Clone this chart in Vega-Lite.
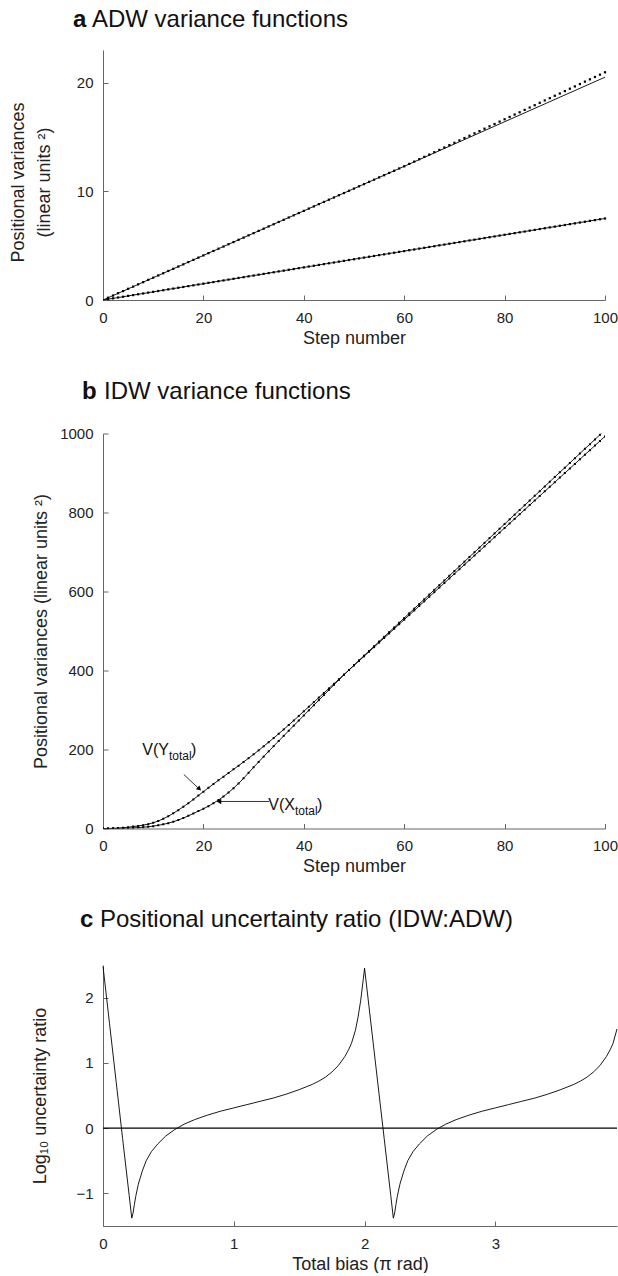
{
  "$schema": "https://vega.github.io/schema/vega-lite/v6.json",
  "background": "white",
  "padding": {"left": 8, "top": 8, "right": 0, "bottom": 0},
  "spacing": 32.5,
  "config": {
    "font": "Liberation Sans",
    "view": {"stroke": null},
    "axis": {
      "grid": false,
      "domainColor": "#666",
      "tickColor": "#666",
      "domainWidth": 1,
      "tickWidth": 1,
      "tickSize": -5,
      "labelPadding": 15,
      "labelFontSize": 15,
      "labelColor": "#222",
      "labelFlush": false,
      "format": "d",
      "titleFontSize": 18,
      "titleFontWeight": "normal",
      "titleColor": "#222"
    }
  },
  "datasets": {
    "adwDots": [
      {"step":1,"upper":0.21,"lower":0.08},{"step":2,"upper":0.41,"lower":0.15},{"step":3,"upper":0.62,"lower":0.23},{"step":4,"upper":0.82,"lower":0.3},{"step":5,"upper":1.03,"lower":0.38},
      {"step":6,"upper":1.23,"lower":0.45},{"step":7,"upper":1.44,"lower":0.53},{"step":8,"upper":1.64,"lower":0.6},{"step":9,"upper":1.85,"lower":0.68},{"step":10,"upper":2.05,"lower":0.75},
      {"step":11,"upper":2.26,"lower":0.83},{"step":12,"upper":2.46,"lower":0.9},{"step":13,"upper":2.67,"lower":0.98},{"step":14,"upper":2.87,"lower":1.05},{"step":15,"upper":3.08,"lower":1.13},
      {"step":16,"upper":3.28,"lower":1.2},{"step":17,"upper":3.49,"lower":1.28},{"step":18,"upper":3.69,"lower":1.35},{"step":19,"upper":3.9,"lower":1.43},{"step":20,"upper":4.1,"lower":1.5},
      {"step":21,"upper":4.31,"lower":1.58},{"step":22,"upper":4.51,"lower":1.65},{"step":23,"upper":4.72,"lower":1.73},{"step":24,"upper":4.92,"lower":1.8},{"step":25,"upper":5.13,"lower":1.88},
      {"step":26,"upper":5.33,"lower":1.95},{"step":27,"upper":5.54,"lower":2.03},{"step":28,"upper":5.74,"lower":2.1},{"step":29,"upper":5.95,"lower":2.18},{"step":30,"upper":6.15,"lower":2.25},
      {"step":31,"upper":6.36,"lower":2.33},{"step":32,"upper":6.56,"lower":2.4},{"step":33,"upper":6.77,"lower":2.48},{"step":34,"upper":6.97,"lower":2.55},{"step":35,"upper":7.18,"lower":2.63},
      {"step":36,"upper":7.38,"lower":2.7},{"step":37,"upper":7.59,"lower":2.78},{"step":38,"upper":7.79,"lower":2.85},{"step":39,"upper":8.0,"lower":2.93},{"step":40,"upper":8.2,"lower":3.0},
      {"step":41,"upper":8.41,"lower":3.08},{"step":42,"upper":8.61,"lower":3.15},{"step":43,"upper":8.82,"lower":3.23},{"step":44,"upper":9.02,"lower":3.3},{"step":45,"upper":9.23,"lower":3.38},
      {"step":46,"upper":9.43,"lower":3.45},{"step":47,"upper":9.64,"lower":3.53},{"step":48,"upper":9.84,"lower":3.6},{"step":49,"upper":10.05,"lower":3.68},{"step":50,"upper":10.25,"lower":3.75},
      {"step":51,"upper":10.46,"lower":3.83},{"step":52,"upper":10.66,"lower":3.9},{"step":53,"upper":10.87,"lower":3.98},{"step":54,"upper":11.07,"lower":4.05},{"step":55,"upper":11.28,"lower":4.13},
      {"step":56,"upper":11.48,"lower":4.2},{"step":57,"upper":11.69,"lower":4.28},{"step":58,"upper":11.89,"lower":4.35},{"step":59,"upper":12.1,"lower":4.43},{"step":60,"upper":12.3,"lower":4.5},
      {"step":61,"upper":12.52,"lower":4.58},{"step":62,"upper":12.73,"lower":4.65},{"step":63,"upper":12.95,"lower":4.73},{"step":64,"upper":13.17,"lower":4.8},{"step":65,"upper":13.38,"lower":4.88},
      {"step":66,"upper":13.6,"lower":4.95},{"step":67,"upper":13.81,"lower":5.03},{"step":68,"upper":14.03,"lower":5.1},{"step":69,"upper":14.25,"lower":5.18},{"step":70,"upper":14.46,"lower":5.25},
      {"step":71,"upper":14.68,"lower":5.33},{"step":72,"upper":14.9,"lower":5.4},{"step":73,"upper":15.11,"lower":5.48},{"step":74,"upper":15.33,"lower":5.55},{"step":75,"upper":15.54,"lower":5.63},
      {"step":76,"upper":15.76,"lower":5.7},{"step":77,"upper":15.98,"lower":5.78},{"step":78,"upper":16.19,"lower":5.85},{"step":79,"upper":16.41,"lower":5.93},{"step":80,"upper":16.63,"lower":6.0},
      {"step":81,"upper":16.84,"lower":6.08},{"step":82,"upper":17.06,"lower":6.15},{"step":83,"upper":17.27,"lower":6.23},{"step":84,"upper":17.49,"lower":6.3},{"step":85,"upper":17.71,"lower":6.38},
      {"step":86,"upper":17.92,"lower":6.45},{"step":87,"upper":18.14,"lower":6.53},{"step":88,"upper":18.36,"lower":6.6},{"step":89,"upper":18.57,"lower":6.68},{"step":90,"upper":18.79,"lower":6.75},
      {"step":91,"upper":19.0,"lower":6.83},{"step":92,"upper":19.22,"lower":6.9},{"step":93,"upper":19.44,"lower":6.98},{"step":94,"upper":19.65,"lower":7.05},{"step":95,"upper":19.87,"lower":7.13},
      {"step":96,"upper":20.09,"lower":7.2},{"step":97,"upper":20.3,"lower":7.28},{"step":98,"upper":20.52,"lower":7.35},{"step":99,"upper":20.73,"lower":7.43},{"step":100,"upper":20.95,"lower":7.5}
    ],
    "adwLines": [
      {"step":0,"upper":0,"lower":0},
      {"step":100,"upper":20.5,"lower":7.5}
    ],
    "idw": [
      {"step":0,"vy":0,"vx":0},{"step":1,"vy":0.1,"vx":0.02},{"step":2,"vy":0.4,"vx":0.1},{"step":3,"vy":1,"vx":0.25},{"step":4,"vy":2,"vx":0.5},
      {"step":5,"vy":3.2,"vx":0.9},{"step":6,"vy":4.8,"vx":1.5},{"step":7,"vy":6.5,"vx":2.3},{"step":8,"vy":8.5,"vx":3.3},{"step":9,"vy":11,"vx":4.5},
      {"step":10,"vy":14.5,"vx":6},{"step":11,"vy":19,"vx":8},{"step":12,"vy":24.5,"vx":10.5},{"step":13,"vy":31,"vx":13.5},{"step":14,"vy":38.5,"vx":17},
      {"step":15,"vy":46.5,"vx":21.5},{"step":16,"vy":55,"vx":26.5},{"step":17,"vy":64,"vx":32},{"step":18,"vy":73.5,"vx":38},{"step":19,"vy":83.3,"vx":44},
      {"step":20,"vy":93.2,"vx":50},{"step":21,"vy":103,"vx":56.5},{"step":22,"vy":112.6,"vx":64},{"step":23,"vy":122,"vx":72},{"step":24,"vy":131.3,"vx":81},
      {"step":25,"vy":140.5,"vx":91},{"step":26,"vy":149.7,"vx":102},{"step":27,"vy":159,"vx":114},{"step":28,"vy":168.4,"vx":127},{"step":29,"vy":178,"vx":141},
      {"step":30,"vy":187.8,"vx":155},{"step":31,"vy":197.8,"vx":168.5},{"step":32,"vy":208,"vx":182},{"step":33,"vy":218.4,"vx":195.3},{"step":34,"vy":229,"vx":208.5},
      {"step":35,"vy":239.8,"vx":221.6},{"step":36,"vy":250.8,"vx":234.6},{"step":37,"vy":262,"vx":247.5},{"step":38,"vy":273.4,"vx":260.4},{"step":39,"vy":285,"vx":273.3},
      {"step":40,"vy":296.7,"vx":286.2},{"step":41,"vy":308.3,"vx":299.1},{"step":42,"vy":319.9,"vx":312},{"step":43,"vy":331.5,"vx":324.9},{"step":44,"vy":343.1,"vx":337.8},
      {"step":45,"vy":354.7,"vx":350.7},{"step":46,"vy":366.3,"vx":363.6},{"step":47,"vy":377.9,"vx":376.4},{"step":48,"vy":389.5,"vx":389.1},{"step":49,"vy":401.1,"vx":401.5},
      {"step":50,"vy":412.7,"vx":413.7},{"step":51,"vy":424.3,"vx":425.7},{"step":52,"vy":435.9,"vx":437.6},{"step":53,"vy":447.5,"vx":449.5},{"step":54,"vy":459.1,"vx":461.4},
      {"step":55,"vy":470.7,"vx":473.3},{"step":56,"vy":482.3,"vx":485.2},{"step":57,"vy":493.9,"vx":497.1},{"step":58,"vy":505.5,"vx":509.0},{"step":59,"vy":517.1,"vx":520.9},
      {"step":60,"vy":528.7,"vx":532.8},{"step":61,"vy":540.3,"vx":544.7},{"step":62,"vy":551.9,"vx":556.6},{"step":63,"vy":563.5,"vx":568.5},{"step":64,"vy":575.1,"vx":580.4},
      {"step":65,"vy":586.7,"vx":592.3},{"step":66,"vy":598.3,"vx":604.2},{"step":67,"vy":609.9,"vx":616.1},{"step":68,"vy":621.5,"vx":628.0},{"step":69,"vy":633.1,"vx":639.9},
      {"step":70,"vy":644.7,"vx":651.8},{"step":71,"vy":656.3,"vx":663.7},{"step":72,"vy":667.9,"vx":675.6},{"step":73,"vy":679.5,"vx":687.5},{"step":74,"vy":691.1,"vx":699.4},
      {"step":75,"vy":702.7,"vx":711.3},{"step":76,"vy":714.3,"vx":723.2},{"step":77,"vy":725.9,"vx":735.1},{"step":78,"vy":737.5,"vx":747.0},{"step":79,"vy":749.1,"vx":758.9},
      {"step":80,"vy":760.7,"vx":770.8},{"step":81,"vy":772.3,"vx":782.7},{"step":82,"vy":783.9,"vx":794.6},{"step":83,"vy":795.5,"vx":806.5},{"step":84,"vy":807.1,"vx":818.4},
      {"step":85,"vy":818.7,"vx":830.3},{"step":86,"vy":830.3,"vx":842.2},{"step":87,"vy":841.9,"vx":854.1},{"step":88,"vy":853.5,"vx":866.0},{"step":89,"vy":865.1,"vx":877.9},
      {"step":90,"vy":876.7,"vx":889.8},{"step":91,"vy":888.3,"vx":901.7},{"step":92,"vy":899.9,"vx":913.6},{"step":93,"vy":911.5,"vx":925.5},{"step":94,"vy":923.1,"vx":937.4},
      {"step":95,"vy":934.7,"vx":949.3},{"step":96,"vy":946.3,"vx":961.2},{"step":97,"vy":957.9,"vx":973.1},{"step":98,"vy":969.5,"vx":985.0},{"step":99,"vy":981.1,"vx":996.9},
      {"step":100,"vy":992.7,"vx":1008.8}
    ],
    "ratio": [
      {"bias":0,"logratio":2.48},{"bias":0.05,"logratio":1.6},{"bias":0.1,"logratio":0.72},{"bias":0.15,"logratio":-0.16},{"bias":0.2,"logratio":-1.03},
      {"bias":0.22,"logratio":-1.38},{"bias":0.23,"logratio":-1.3},{"bias":0.24,"logratio":-1.17},{"bias":0.25,"logratio":-1.05},{"bias":0.27,"logratio":-0.86},{"bias":0.3,"logratio":-0.66},
      {"bias":0.33,"logratio":-0.5},{"bias":0.37,"logratio":-0.36},{"bias":0.42,"logratio":-0.24},{"bias":0.48,"logratio":-0.12},{"bias":0.55,"logratio":-0.02},
      {"bias":0.62,"logratio":0.06},{"bias":0.7,"logratio":0.13},{"bias":0.8,"logratio":0.2},{"bias":0.9,"logratio":0.26},{"bias":1.0,"logratio":0.31},
      {"bias":1.1,"logratio":0.36},{"bias":1.2,"logratio":0.41},{"bias":1.3,"logratio":0.46},{"bias":1.4,"logratio":0.52},{"bias":1.5,"logratio":0.59},
      {"bias":1.6,"logratio":0.67},{"bias":1.65,"logratio":0.72},{"bias":1.7,"logratio":0.78},{"bias":1.75,"logratio":0.86},{"bias":1.8,"logratio":0.96},{"bias":1.85,"logratio":1.1},
      {"bias":1.88,"logratio":1.21},{"bias":1.9,"logratio":1.3},{"bias":1.93,"logratio":1.5},{"bias":1.95,"logratio":1.7},{"bias":1.97,"logratio":1.95},{"bias":1.99,"logratio":2.28},{"bias":2.0,"logratio":2.45},
      {"bias":2.05,"logratio":1.58},{"bias":2.1,"logratio":0.71},{"bias":2.15,"logratio":-0.16},{"bias":2.2,"logratio":-1.03},{"bias":2.22,"logratio":-1.38},
      {"bias":2.23,"logratio":-1.3},{"bias":2.24,"logratio":-1.17},{"bias":2.25,"logratio":-1.05},{"bias":2.27,"logratio":-0.86},{"bias":2.3,"logratio":-0.66},{"bias":2.33,"logratio":-0.5},
      {"bias":2.37,"logratio":-0.36},{"bias":2.42,"logratio":-0.24},{"bias":2.48,"logratio":-0.12},{"bias":2.55,"logratio":-0.02},{"bias":2.62,"logratio":0.06},
      {"bias":2.7,"logratio":0.13},{"bias":2.8,"logratio":0.2},{"bias":2.9,"logratio":0.26},{"bias":3.0,"logratio":0.31},{"bias":3.1,"logratio":0.36},
      {"bias":3.2,"logratio":0.41},{"bias":3.3,"logratio":0.46},{"bias":3.4,"logratio":0.52},{"bias":3.5,"logratio":0.59},{"bias":3.6,"logratio":0.67},
      {"bias":3.65,"logratio":0.72},{"bias":3.7,"logratio":0.78},{"bias":3.75,"logratio":0.86},{"bias":3.8,"logratio":0.96},{"bias":3.85,"logratio":1.1},{"bias":3.88,"logratio":1.21},{"bias":3.9,"logratio":1.3},
      {"bias":3.93,"logratio":1.52}
    ]
  },
  "vconcat": [
    {
      "width": 502,
      "height": 250,
      "layer": [
        {
          "data": {"name": "adwLines"},
          "transform": [{"fold": ["upper", "lower"], "as": ["series", "variance"]}],
          "mark": {"type": "line", "color": "#000", "strokeWidth": 0.9},
          "encoding": {
            "x": {"field": "step", "type": "quantitative", "scale": {"domain": [0, 100], "nice": false}, "axis": {"values": [0, 20, 40, 60, 80, 100], "title": "Step number"}},
            "y": {"field": "variance", "type": "quantitative", "scale": {"domain": [0, 23], "nice": false}, "axis": {"values": [0, 10, 20], "title": ["Positional variances", "(linear units ²)"], "titleX": -85, "titleY": 132, "titleBaseline": "middle", "titleLineHeight": 26}},
            "detail": {"field": "series"}
          }
        },
        {
          "data": {"name": "adwDots"},
          "transform": [{"fold": ["upper", "lower"], "as": ["series", "variance"]}],
          "mark": {"type": "point", "shape": "square", "filled": true, "size": 5, "color": "#000", "opacity": 1},
          "encoding": {
            "x": {"field": "step", "type": "quantitative", "scale": {"domain": [0, 100], "nice": false}, "axis": {"values": [0, 20, 40, 60, 80, 100], "title": "Step number"}},
            "y": {"field": "variance", "type": "quantitative", "scale": {"domain": [0, 23], "nice": false}, "axis": {"values": [0, 10, 20], "title": ["Positional variances", "(linear units ²)"], "titleX": -85, "titleY": 132, "titleBaseline": "middle", "titleLineHeight": 26}}
          }
        },
        {
          "data": {"values": [{"tag": "a", "name": "ADW variance functions"}]},
          "mark": {"type": "text", "align": "left", "baseline": "alphabetic", "fontSize": 24, "fontWeight": "bold", "color": "#111"},
          "encoding": {"x": {"datum": -6, "type": "quantitative"}, "y": {"datum": 25.1, "type": "quantitative"}, "text": {"field": "tag"}}
        },
        {
          "data": {"values": [{"tag": "a", "name": "ADW variance functions"}]},
          "mark": {"type": "text", "align": "left", "baseline": "alphabetic", "fontSize": 24, "dx": 19, "color": "#111"},
          "encoding": {"x": {"datum": -6, "type": "quantitative"}, "y": {"datum": 25.1, "type": "quantitative"}, "text": {"field": "name"}}
        }
      ]
    },
    {
      "width": 502,
      "height": 395,
      "layer": [
        {
          "data": {"name": "idw"},
          "transform": [{"fold": ["vy", "vx"], "as": ["series", "variance"]}],
          "mark": {"type": "line", "color": "#000", "strokeWidth": 0.9, "clip": true},
          "encoding": {
            "x": {"field": "step", "type": "quantitative", "scale": {"domain": [0, 100], "nice": false}, "axis": {"values": [0, 20, 40, 60, 80, 100], "title": "Step number"}},
            "y": {"field": "variance", "type": "quantitative", "scale": {"domain": [0, 1000], "nice": false}, "axis": {"values": [0, 200, 400, 600, 800, 1000], "title": "Positional variances (linear units  ²)", "titleX": -62, "titleBaseline": "middle"}},
            "detail": {"field": "series"}
          }
        },
        {
          "data": {"name": "idw"},
          "transform": [{"fold": ["vy", "vx"], "as": ["series", "variance"]}],
          "mark": {"type": "point", "shape": "square", "filled": true, "size": 4, "color": "#000", "opacity": 1, "clip": true},
          "encoding": {
            "x": {"field": "step", "type": "quantitative", "scale": {"domain": [0, 100], "nice": false}, "axis": {"values": [0, 20, 40, 60, 80, 100], "title": "Step number"}},
            "y": {"field": "variance", "type": "quantitative", "scale": {"domain": [0, 1000], "nice": false}, "axis": {"values": [0, 200, 400, 600, 800, 1000], "title": "Positional variances (linear units  ²)", "titleX": -62, "titleBaseline": "middle"}}
          }
        },
        {
          "data": {"values": [{"tag": "b", "name": "IDW variance functions"}]},
          "mark": {"type": "text", "align": "left", "baseline": "alphabetic", "fontSize": 24, "fontWeight": "bold", "color": "#111"},
          "encoding": {"x": {"datum": -4.18, "type": "quantitative"}, "y": {"datum": 1088, "type": "quantitative"}, "text": {"field": "tag"}}
        },
        {
          "data": {"values": [{"tag": "b", "name": "IDW variance functions"}]},
          "mark": {"type": "text", "align": "left", "baseline": "alphabetic", "fontSize": 24, "dx": 22, "color": "#111"},
          "encoding": {"x": {"datum": -4.18, "type": "quantitative"}, "y": {"datum": 1088, "type": "quantitative"}, "text": {"field": "name"}}
        },
        {
          "data": {"values": [{"main": "V(Y", "sub": "total", "close": ")"}]},
          "mark": {"type": "text", "align": "right", "baseline": "alphabetic", "fontSize": 16, "color": "#111"},
          "encoding": {"x": {"datum": 13.15, "type": "quantitative"}, "y": {"datum": 187, "type": "quantitative"}, "text": {"field": "main"}}
        },
        {
          "data": {"values": [{"main": "V(Y", "sub": "total", "close": ")"}]},
          "mark": {"type": "text", "align": "left", "baseline": "alphabetic", "fontSize": 12, "dy": 5, "color": "#111"},
          "encoding": {"x": {"datum": 13.15, "type": "quantitative"}, "y": {"datum": 187, "type": "quantitative"}, "text": {"field": "sub"}}
        },
        {
          "data": {"values": [{"main": "V(Y", "sub": "total", "close": ")"}]},
          "mark": {"type": "text", "align": "left", "baseline": "alphabetic", "fontSize": 16, "dx": 22, "color": "#111"},
          "encoding": {"x": {"datum": 13.15, "type": "quantitative"}, "y": {"datum": 187, "type": "quantitative"}, "text": {"field": "close"}}
        },
        {
          "data": {"values": [{"main": "V(X", "sub": "total", "close": ")"}]},
          "mark": {"type": "text", "align": "right", "baseline": "alphabetic", "fontSize": 16, "color": "#111"},
          "encoding": {"x": {"datum": 38.25, "type": "quantitative"}, "y": {"datum": 48, "type": "quantitative"}, "text": {"field": "main"}}
        },
        {
          "data": {"values": [{"main": "V(X", "sub": "total", "close": ")"}]},
          "mark": {"type": "text", "align": "left", "baseline": "alphabetic", "fontSize": 12, "dy": 5, "color": "#111"},
          "encoding": {"x": {"datum": 38.25, "type": "quantitative"}, "y": {"datum": 48, "type": "quantitative"}, "text": {"field": "sub"}}
        },
        {
          "data": {"values": [{"main": "V(X", "sub": "total", "close": ")"}]},
          "mark": {"type": "text", "align": "left", "baseline": "alphabetic", "fontSize": 16, "dx": 22, "color": "#111"},
          "encoding": {"x": {"datum": 38.25, "type": "quantitative"}, "y": {"datum": 48, "type": "quantitative"}, "text": {"field": "close"}}
        },
        {
          "data": {"values": [{"arrow": "Y"}]},
          "mark": {"type": "rule", "color": "#000", "strokeWidth": 0.8},
          "encoding": {"x": {"datum": 16.1, "type": "quantitative"}, "y": {"datum": 136.7, "type": "quantitative"}, "x2": {"datum": 19.3}, "y2": {"datum": 98.5}}
        },
        {
          "data": {"values": [{"arrow": "Y"}]},
          "mark": {"type": "point", "shape": "triangle-right", "filled": true, "size": 28, "angle": 43, "color": "#000", "opacity": 1},
          "encoding": {"x": {"datum": 19.2, "type": "quantitative"}, "y": {"datum": 100, "type": "quantitative"}}
        },
        {
          "data": {"values": [{"arrow": "X"}]},
          "mark": {"type": "rule", "color": "#000", "strokeWidth": 0.8},
          "encoding": {"x": {"datum": 33.1, "type": "quantitative"}, "y": {"datum": 68.4, "type": "quantitative"}, "x2": {"datum": 23}, "y2": {"datum": 68.4}}
        },
        {
          "data": {"values": [{"arrow": "X"}]},
          "mark": {"type": "point", "shape": "triangle-left", "filled": true, "size": 28, "color": "#000", "opacity": 1},
          "encoding": {"x": {"datum": 23.1, "type": "quantitative"}, "y": {"datum": 68.4, "type": "quantitative"}}
        }
      ]
    },
    {
      "width": 514,
      "height": 261,
      "layer": [
        {
          "data": {"name": "ratio"},
          "mark": {"type": "line", "color": "#000", "strokeWidth": 0.9},
          "encoding": {
            "x": {"field": "bias", "type": "quantitative", "scale": {"domain": [0, 3.93], "nice": false}, "axis": {"values": [0, 1, 2, 3], "title": "Total bias (π rad)"}},
            "y": {"field": "logratio", "type": "quantitative", "scale": {"domain": [-1.5, 2.5], "nice": false, "zero": false}, "axis": {"values": [-1, 0, 1, 2], "title": "Log₁₀ uncertainty ratio", "titleX": -63, "titleBaseline": "middle"}}
          }
        },
        {
          "data": {"values": [{"ref": "zero"}]},
          "mark": {"type": "rule", "color": "#000", "strokeWidth": 1.3},
          "encoding": {"y": {"datum": 0, "type": "quantitative"}}
        },
        {
          "data": {"values": [{"tag": "c", "name": "Positional uncertainty ratio (IDW:ADW)"}]},
          "mark": {"type": "text", "align": "left", "baseline": "alphabetic", "fontSize": 24, "fontWeight": "bold", "color": "#111"},
          "encoding": {"x": {"datum": -0.176, "type": "quantitative"}, "y": {"datum": 3.08, "type": "quantitative"}, "text": {"field": "tag"}}
        },
        {
          "data": {"values": [{"tag": "c", "name": "Positional uncertainty ratio (IDW:ADW)"}]},
          "mark": {"type": "text", "align": "left", "baseline": "alphabetic", "fontSize": 24, "dx": 20, "color": "#111"},
          "encoding": {"x": {"datum": -0.176, "type": "quantitative"}, "y": {"datum": 3.08, "type": "quantitative"}, "text": {"field": "name"}}
        }
      ]
    }
  ]
}
